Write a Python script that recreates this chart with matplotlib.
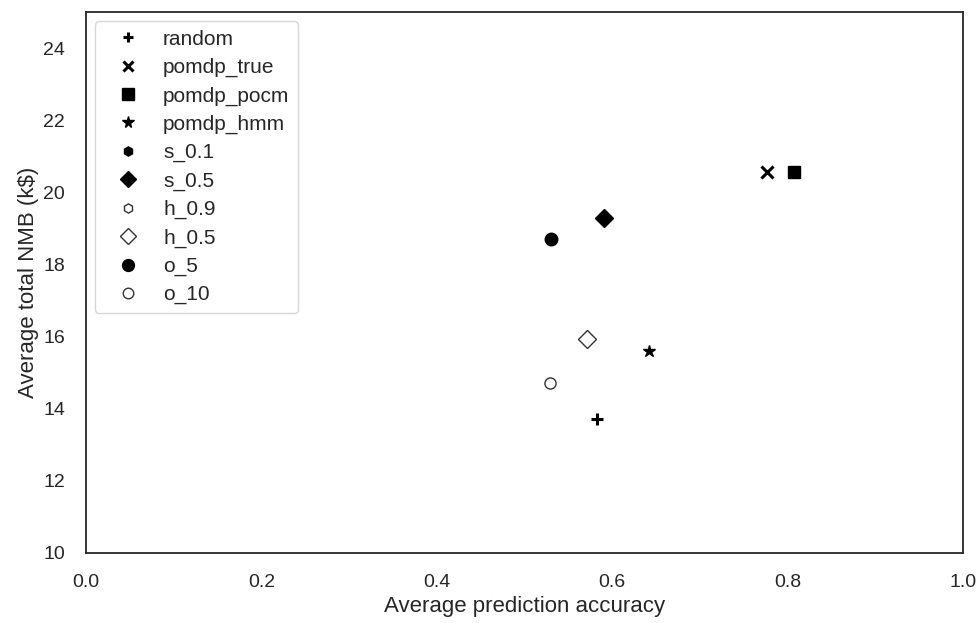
import matplotlib
matplotlib.use("Agg")
import matplotlib.pyplot as plt

labels = ["random", "pomdp_true", "pomdp_pocm", "pomdp_hmm", "s_0.1", "s_0.5",
          "h_0.9", "h_0.5", "o_5", "o_10"]
accuracy = [0.583, 0.776, 0.807, 0.642, 0.530, 0.591, 0.571, 0.571, 0.530, 0.529]
nmb = [13.72, 20.56, 20.56, 15.60, 18.70, 19.29, 15.93, 15.93, 18.70, 14.71]
markers = ["P", "X", "s", "*", "h", "D", "h", "D", "o", "o"]
filled = [True, True, True, True, True, True, False, False, True, False]
sizes = [9, 9, 9, 9, 7, 9, 7, 9, 9, 8]

plt.rcParams['font.family'] = ['Liberation Sans', 'DejaVu Sans']
fig = plt.figure(figsize=(9.79, 6.23), dpi=100)
ax = fig.add_axes([0.0878, 0.1124, 0.8959, 0.8683])

plus_like = {"P": "+", "X": "x"}
for lab, xv, yv, m, f, s in zip(labels, accuracy, nmb, markers, filled, sizes):
    if m in plus_like:
        ax.plot([xv], [yv], linestyle="none", marker=plus_like[m], color="black",
                markersize=8, markeredgewidth=2.2, label=lab)
    else:
        ax.plot([xv], [yv], linestyle="none", marker=m,
                markerfacecolor="black" if f else "white",
                markeredgecolor="black" if f else "#333333",
                markeredgewidth=1.0, markersize=s, label=lab)

ax.set_xlim(0, 1)
ax.set_ylim(10, 25)
ax.set_yticks([10, 12, 14, 16, 18, 20, 22, 24])
ax.set_xticks([0.0, 0.2, 0.4, 0.6, 0.8, 1.0])
for sp in ax.spines.values():
    sp.set_color("#262626")
    sp.set_linewidth(1.3)
ax.tick_params(axis="both", labelsize=14, colors="#262626", length=0, pad=15)
ax.set_xlabel("Average prediction accuracy", fontsize=16, color="#262626", labelpad=4)
ax.set_ylabel("Average total NMB (k$)", fontsize=16, color="#262626", labelpad=3)

leg = ax.legend(loc="upper left", fontsize=15, labelspacing=0.44, handlelength=2.3,
                handletextpad=0.55, borderpad=0.4, frameon=True, fancybox=True,
                borderaxespad=0.45, markerscale=0.95)
leg.get_frame().set_edgecolor("#cccccc")
leg.get_frame().set_linewidth(1.0)
for t in leg.get_texts():
    t.set_color("#262626")

fig.savefig("out.png", dpi=100)
